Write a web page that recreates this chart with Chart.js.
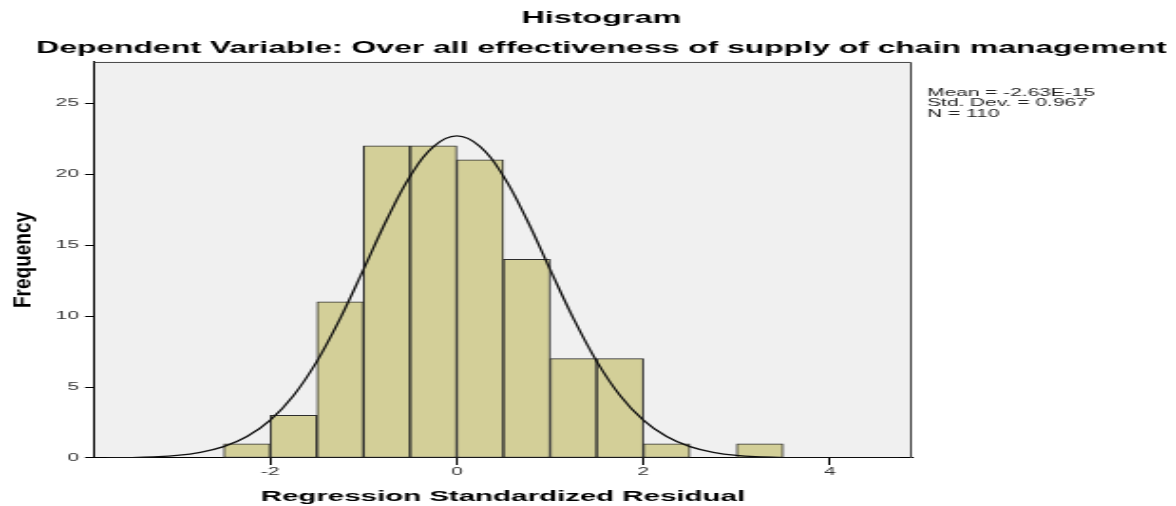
<!DOCTYPE html>
<html>
<head>
<meta charset="utf-8">
<title>Histogram</title>
<script src="https://cdn.jsdelivr.net/npm/chart.js@4.4.1/dist/chart.umd.min.js"></script>
<style>
  html, body { margin: 0; padding: 0; background: #fff; overflow: hidden; }
  /* the picture is a horizontally stretched chart, so draw narrow and stretch */
  #wrap { position: relative; width: 619px; height: 506px; transform: scaleX(1.8998); transform-origin: 0 0; }
</style>
</head>
<body>
<div id="wrap"><canvas id="chart"></canvas></div>
<script>
'use strict';

var binCenters = [-2.25, -1.75, -1.25, -0.75, -0.25, 0.25, 0.75, 1.25, 1.75, 2.25, 2.75, 3.25];
var binCounts  = [1, 3, 11, 22, 22, 21, 14, 7, 7, 1, 0, 1];

var curveX = [-3.75, -3.5, -3.25, -3, -2.75, -2.5, -2.25, -2, -1.75, -1.5, -1.25, -1, -0.75, -0.5, -0.25,
              0, 0.25, 0.5, 0.75, 1, 1.25, 1.5, 1.75, 2, 2.25, 2.5, 2.75, 3, 3.25, 3.5, 3.75, 4, 4.25, 4.5, 4.75];
var curveY = [0.01, 0.03, 0.08, 0.18, 0.40, 0.80, 1.51, 2.67, 4.41, 6.81, 9.84, 13.29, 16.80, 19.85, 21.94,
              22.69, 21.94, 19.85, 16.80, 13.29, 9.84, 6.81, 4.41, 2.67, 1.51, 0.80, 0.40, 0.18, 0.08, 0.03, 0.01, 0, 0, 0, 0];

var xTicks = [-2, 0, 2, 4];
var yTicks = [0, 5, 10, 15, 20, 25];
var statsLines = ['Mean = -2.63E-15', 'Std. Dev. = 0.967', 'N = 110'];

var FONT = "'Liberation Sans', Arial, sans-serif";

function toPoints(xs, ys) {
  return xs.map(function (x, i) { return { x: x, y: ys[i] }; });
}

var plotPlugin = {
  id: 'plotDecor',
  beforeDraw: function (chart) {
    var a = chart.chartArea, ctx = chart.ctx;
    ctx.save();
    ctx.fillStyle = '#f0f0f0';
    ctx.fillRect(a.left, a.top, a.right - a.left, a.bottom - a.top);
    ctx.restore();
  },
  afterDraw: function (chart) {
    var a = chart.chartArea, ctx = chart.ctx;
    ctx.save();
    // top and right edges of the frame
    ctx.strokeStyle = '#444';
    ctx.lineWidth = 1;
    ctx.beginPath();
    ctx.moveTo(a.left, a.top + 0.5);
    ctx.lineTo(a.right - 0.5, a.top + 0.5);
    ctx.lineTo(a.right - 0.5, a.bottom);
    ctx.stroke();

    // stats box text
    ctx.fillStyle = '#222';
    ctx.font = '11px ' + FONT;
    ctx.textAlign = 'left';
    ctx.textBaseline = 'alphabetic';
    statsLines.forEach(function (t, i) {
      ctx.fillText(t, a.right + 8, a.top + 34 + i * 10.5);
    });

    // y axis title, squeezed to undo the stretch
    ctx.translate(12, (a.top + a.bottom) / 2);
    ctx.scale(0.7, 1);
    ctx.rotate(-Math.PI / 2);
    ctx.fillStyle = '#000';
    ctx.font = 'bold 19px ' + FONT;
    ctx.textAlign = 'center';
    ctx.textBaseline = 'middle';
    ctx.fillText('Frequency', 0, 0);
    ctx.restore();
  }
};

var ctx = document.getElementById('chart').getContext('2d');
new Chart(ctx, {
  type: 'bar',
  data: {
    datasets: [
      {
        type: 'line',
        data: toPoints(curveX, curveY),
        borderColor: '#111',
        borderWidth: 1.3,
        pointRadius: 0,
        tension: 0.4,
        fill: false,
        order: 1
      },
      {
        type: 'bar',
        data: toPoints(binCenters, binCounts),
        backgroundColor: '#d3cf98',
        borderColor: '#2d2d2d',
        borderWidth: 1,
        borderSkipped: false,
        barPercentage: 1,
        categoryPercentage: 1,
        grouped: false,
        order: 2
      }
    ]
  },
  options: {
    responsive: true,
    maintainAspectRatio: false,
    animation: false,
    layout: { padding: { left: 14, right: 0, top: 0, bottom: 0 } },
    plugins: {
      legend: { display: false },
      tooltip: { enabled: false },
      title: {
        display: true,
        text: 'Histogram',
        color: '#000',
        font: { family: FONT, size: 17, weight: 'bold' },
        padding: { top: 8, bottom: 0 }
      },
      subtitle: {
        display: true,
        text: 'Dependent Variable: Over all effectiveness of supply of chain management',
        color: '#000',
        font: { family: FONT, size: 16.8, weight: 'bold' },
        padding: { top: 10, bottom: 3.4 }
      }
    },
    scales: {
      x: {
        type: 'linear',
        min: -3.89,
        max: 4.88,
        offset: false,
        afterBuildTicks: function (s) { s.ticks = xTicks.map(function (v) { return { value: v }; }); },
        afterFit: function (s) { s.height = 48; },
        grid: { display: true, offset: false, drawOnChartArea: false, drawTicks: true, tickLength: 7, color: '#000', tickColor: '#000' },
        border: { display: true, color: '#000', width: 1 },
        ticks: { color: '#333', font: { family: FONT, size: 11 }, padding: 0, maxRotation: 0 },
        title: {
          display: true,
          text: 'Regression Standardized Residual',
          color: '#000',
          font: { family: FONT, size: 15.5, weight: 'bold' },
          padding: { top: 0, bottom: 0 }
        }
      },
      y: {
        min: 0,
        max: 27.9,
        afterBuildTicks: function (s) { s.ticks = yTicks.map(function (v) { return { value: v }; }); },
        afterFit: function (s) { s.width = 35.47; },
        grid: { display: true, drawOnChartArea: false, drawTicks: true, tickLength: 4.7, color: '#000', tickColor: '#000' },
        border: { display: true, color: '#000', width: 1 },
        ticks: { color: '#333', font: { family: FONT, size: 11 }, padding: 3.2 }
      },
      y2: {
        position: 'right',
        display: true,
        afterFit: function (s) { s.width = 139; },
        grid: { display: false },
        border: { display: false },
        ticks: { display: false }
      }
    }
  },
  plugins: [plotPlugin]
});
</script>
</body>
</html>
